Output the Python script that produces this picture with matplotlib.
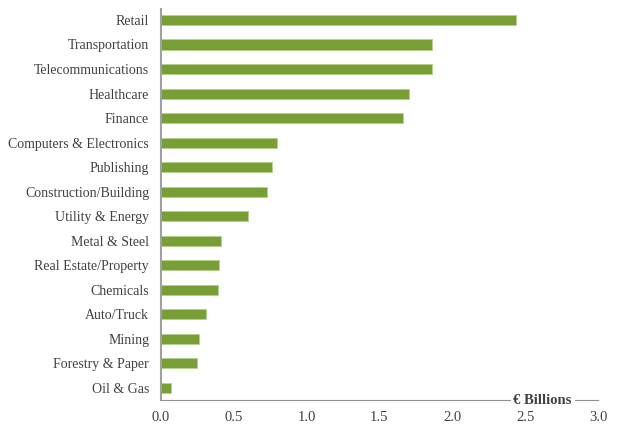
import numpy as np
import matplotlib.pyplot as plt

sectors = ['Retail', 'Transportation', 'Telecommunications', 'Healthcare',
           'Finance', 'Computers & Electronics', 'Publishing',
           'Construction/Building', 'Utility & Energy', 'Metal & Steel',
           'Real Estate/Property', 'Chemicals', 'Auto/Truck', 'Mining',
           'Forestry & Paper', 'Oil & Gas']
values = [2.44, 1.86, 1.86, 1.70, 1.66, 0.80, 0.76, 0.73, 0.60, 0.41,
          0.40, 0.39, 0.31, 0.26, 0.25, 0.07]
xticks = [0.0, 0.5, 1.0, 1.5, 2.0, 2.5, 3.0]

plt.rcParams['font.family'] = ['Liberation Serif', 'DejaVu Serif']

fig = plt.figure(figsize=(6.21, 4.26), dpi=100)
ax = fig.add_axes([0.259, 0.061, 0.704, 0.918])

y = np.arange(len(sectors))
ax.barh(y, values, height=0.41, color='#779f35', edgecolor='#b5d08c', linewidth=0.6)

ax.set_ylim(len(sectors) - 0.5, -0.45)
ax.set_xlim(0, 3.0)
ax.set_yticks(y)
ax.set_yticklabels(sectors, fontsize=10, color='#404040')
ax.set_xticks(xticks)
ax.set_xticklabels(['%.1f' % t for t in xticks], fontsize=10.5, color='#404040')
ax.tick_params(length=0)
ax.tick_params(axis='y', pad=8.5)
ax.tick_params(axis='x', pad=8)

for s in ['top', 'right']:
    ax.spines[s].set_visible(False)
ax.spines['left'].set_color('#a0a0a0')
ax.spines['left'].set_linewidth(1.5)
ax.spines['bottom'].set_color('#909090')
ax.spines['bottom'].set_linewidth(0.8)

ax.text(2.62, 0, '€ Billions', transform=ax.get_xaxis_transform(),
        ha='center', va='center', fontsize=10.5, fontweight='bold',
        color='#404040', zorder=5, clip_on=False,
        bbox=dict(facecolor='white', edgecolor='none', pad=2))

fig.savefig('out.png', dpi=100)
